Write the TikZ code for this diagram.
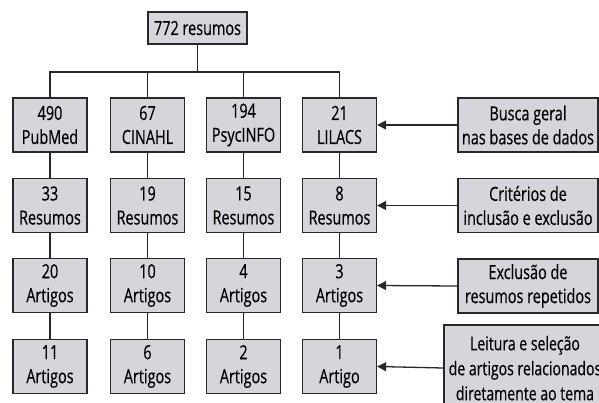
\documentclass[tikz,border=0pt]{standalone}
\usepackage{fontspec}
\setmainfont[FakeStretch=0.74,FakeBold=0.4]{Open Sans}
\usetikzlibrary{arrows.meta}
\definecolor{boxfill}{RGB}{212,214,220}
\definecolor{linec}{RGB}{40,40,40}
\begin{document}
\begin{tikzpicture}[x=1pt,y=-1pt,
  every node/.style={font=\fontsize{19.5}{24}\selectfont, text=black},
  dbbox/.style={draw=linec, line width=1.3pt, fill=boxfill, minimum width=74pt, minimum height=54pt, inner sep=0pt, align=center},
  stagebox/.style={dbbox, minimum width=140pt},
  conn/.style={draw=linec, line width=1.3pt},
  arr/.style={conn, -{Triangle[length=9pt,width=9pt]}}]
\useasboundingbox (0,0) rectangle (599,402);
\clip (0,0) rectangle (599,402);
\node[dbbox, minimum width=99pt, minimum height=32pt] (top) at (197.5,28) {772 resumos};
\coordinate (bus) at (197.5,72);
% row 1
\node[dbbox] (a1) at (50,125) {490\\PubMed};
\node[dbbox] (b1) at (147.5,125) {67\\CINAHL};
\node[dbbox] (c1) at (243.5,125) {194\\PsycINFO};
\node[dbbox] (d1) at (339.5,125) {21\\LILACS};
% row 2
\node[dbbox] (a2) at (50,205.5) {33\\Resumos};
\node[dbbox] (b2) at (147.5,205.5) {19\\Resumos};
\node[dbbox] (c2) at (243.5,205.5) {15\\Resumos};
\node[dbbox] (d2) at (339.5,205.5) {8\\Resumos};
% row 3
\node[dbbox] (a3) at (50,285.5) {20\\Artigos};
\node[dbbox] (b3) at (147.5,285.5) {10\\Artigos};
\node[dbbox] (c3) at (243.5,285.5) {4\\Artigos};
\node[dbbox] (d3) at (339.5,285.5) {3\\Artigos};
% row 4
\node[dbbox] (a4) at (50,366.5) {11\\Artigos};
\node[dbbox] (b4) at (147.5,366.5) {6\\Artigos};
\node[dbbox] (c4) at (243.5,366.5) {2\\Artigos};
\node[dbbox] (d4) at (339.5,366.5) {1\\Artigo};
% stage boxes
\node[stagebox] (s1) at (528,125) {Busca geral\\nas bases de dados};
\node[stagebox] (s2) at (528,205.5) {Critérios de\\inclusão e exclusão};
\node[stagebox] (s3) at (528,286) {Exclusão de\\resumos repetidos};
\node[stagebox, minimum width=162pt, minimum height=86pt, text depth=0pt, font=\fontsize{19}{25}\selectfont] (s4) at (525,368) {Leitura e seleção\\de artigos relacionados\\diretamente ao tema};
% connectors
\draw[conn] (top.south) -- (bus);
\draw[conn] (a1.north) |- (bus) -| (d1.north);
\draw[conn] (b1.north) -- (b1.north |- bus);
\draw[conn] (c1.north) -- (c1.north |- bus);
\foreach \c in {a,b,c,d}{
  \draw[conn] (\c1.south) -- (\c2.north);
  \draw[conn] (\c2.south) -- (\c3.north);
  \draw[conn] (\c3.south) -- (\c4.north);
}
\draw[arr] (s1.west) -- (d1.east);
\draw[arr] (s2.west) -- (d2.east);
\draw[arr] (s3.west) -- (d3.east);
\draw[arr] (s4.west) -- (d4.east);
\end{tikzpicture}
\end{document}
